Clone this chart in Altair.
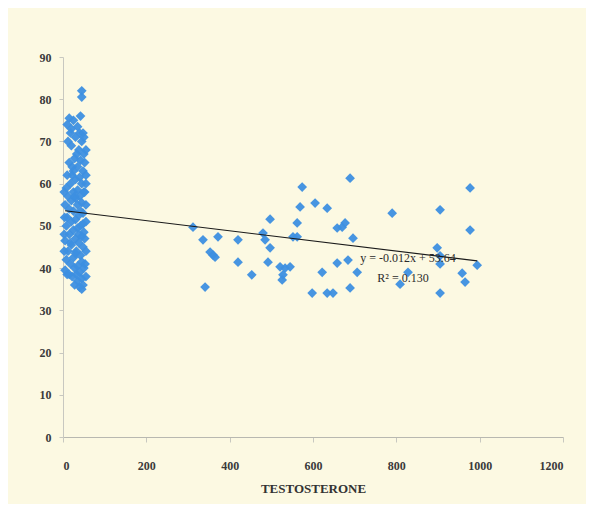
import altair as alt
import pandas as pd

# Left cluster (low testosterone)
left_x = [45, 45, 42, 15, 25, 10, 20, 35, 40, 48, 30, 45, 20, 38, 50, 28, 42, 15, 35, 48,
          22, 10, 40, 30, 45, 18, 8, 35, 25, 50, 12, 40, 30, 20, 45, 5, 35, 15, 25, 48,
          38, 10, 30, 20, 42, 8, 35, 25, 50, 15, 45, 30, 5, 38, 20, 48, 12, 32, 42, 25,
          8, 45, 18, 35, 50, 28, 5, 40, 15, 22, 45, 35, 48, 40, 45, 30, 38, 22, 12, 28,
          42, 18, 32, 48, 10, 55, 52, 55, 55, 52, 55, 53, 55, 3, 3, 4, 3, 28, 52, 55,
          50, 55, 33, 18, 25]
left_y = [82, 80.5, 76, 75.5, 75, 74, 73, 73.5, 72, 72, 71, 70, 69, 68, 67, 66, 65.5, 65, 64, 63,
          62, 62, 61.5, 61, 60, 60, 59, 58.5, 58, 58, 57, 57, 56.5, 56, 55.5, 55, 55, 54, 53.5, 53,
          52.5, 52, 51.5, 51, 50, 50, 49.5, 49, 48.5, 48, 47.5, 47, 46.5, 46, 45.5, 45, 44, 44, 43, 42.5,
          42, 41.5, 41, 40.5, 40, 40, 39.5, 39, 38.5, 38, 37.5, 37, 36, 35.5, 35, 43.5, 48, 64, 70, 57,
          53.5, 46, 38.5, 50.5, 38.5, 62, 58, 55, 51, 47, 44, 41, 38, 48, 44, 52, 58, 36, 65, 68,
          71, 60, 67, 72, 63]

# Right cluster (high testosterone)
right_x = [312, 336, 372, 353, 360, 365, 341, 420, 420, 453, 497, 480, 485, 497, 492, 521, 533, 545,
           528, 526, 562, 552, 562, 574, 569, 605, 634, 622, 598, 634, 648, 689, 658, 670, 677, 696,
           658, 684, 706, 689, 790, 809, 828, 905, 898, 905, 905, 905, 958, 965, 977, 977, 994]
right_y = [49.7, 46.7, 47.4, 43.8, 43.1, 42.6, 35.5, 46.7, 41.4, 38.4, 51.6, 48.3, 46.7, 44.8, 41.4,
           40.3, 40, 40.3, 38.4, 37.2, 50.7, 47.4, 47.4, 59.2, 54.5, 55.4, 54.2, 39, 34.1, 34.1, 34.1,
           61.3, 49.5, 49.7, 50.7, 47.1, 41.2, 41.9, 39, 35.3, 53, 36.2, 39, 53.8, 44.8, 42.9, 41,
           34.1, 38.8, 36.7, 59, 49, 40.7]

# Trend line (printed equation y = -0.012x + 53.64)
trend_x = [5, 994]
trend_y = [53.58, 41.71]

labels_text = ["y = -0.012x + 53.64", "R\u00b2 = 0.130"]
labels_x = [828, 816]
labels_y = [42.4, 37.7]

x_ticks = [0, 200, 400, 600, 800, 1000, 1200]
y_ticks = [0, 10, 20, 30, 40, 50, 60, 70, 80, 90]

pts = pd.DataFrame({"x": left_x + right_x, "y": left_y + right_y})
trend = pd.DataFrame({"x": trend_x, "y": trend_y})
lab = pd.DataFrame({"x": labels_x, "y": labels_y, "t": labels_text})

FONT = "Liberation Serif"

xs = alt.Scale(domain=[0, 1200], nice=False)
ys = alt.Scale(domain=[0, 90], nice=False)

x_axis = alt.Axis(values=x_ticks, format="d", title="TESTOSTERONE", grid=False,
                  domainColor="#b8b8b0", tickColor="#c8c8c0", tickSize=5, labelPadding=18,
                  labelFont=FONT, labelFontSize=12, labelFontWeight="bold", labelColor="#3a3a3a",
                  titleFont=FONT, titleFontSize=13, titleFontWeight="bold",
                  titleColor="#333333", titlePadding=11)
y_axis = alt.Axis(values=y_ticks, title=None, grid=False, domainColor="#c8c8c0",
                  tickColor="#c8c8c0", tickSize=4, labelPadding=8, labelFont=FONT,
                  labelFontSize=12, labelFontWeight="bold", labelColor="#3a3a3a")

points = alt.Chart(pts).mark_point(shape="diamond", filled=True, size=95,
                                   color="#3d8fe0", opacity=0.95).encode(
    x=alt.X("x:Q", scale=xs, axis=x_axis),
    y=alt.Y("y:Q", scale=ys, axis=y_axis),
)

line = alt.Chart(trend).mark_line(color="#1a1a1a", strokeWidth=1.2).encode(
    x=alt.X("x:Q", scale=xs), y=alt.Y("y:Q", scale=ys)
)

texts = alt.Chart(lab).mark_text(font=FONT, fontSize=12, color="#2a2a2a").encode(
    x=alt.X("x:Q", scale=xs), y=alt.Y("y:Q", scale=ys), text="t:N"
)

chart = alt.layer(points, line, texts).properties(
    width=500, height=380, autosize="none",
    padding={"left": 55, "top": 49, "right": 23, "bottom": 67},
    background="#fcf9e2",
).configure_view(stroke=None)

chart.save("out.html", embed_options={"renderer": "svg", "actions": False})
